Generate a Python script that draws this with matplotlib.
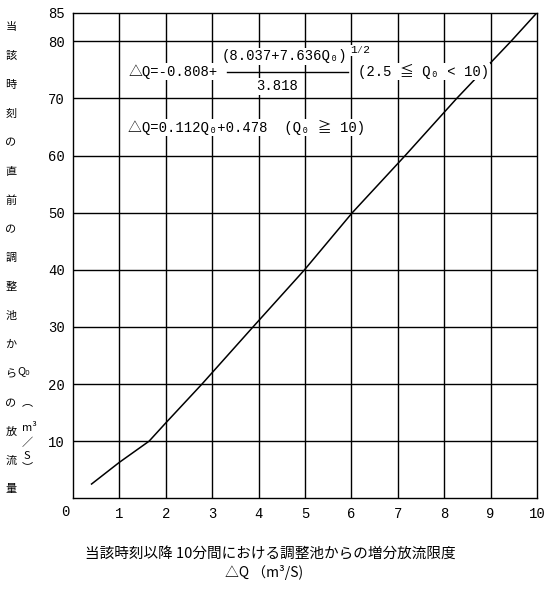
import matplotlib
matplotlib.use('Agg')
import matplotlib.pyplot as plt

plt.rcParams['font.family'] = ['Noto Sans CJK JP', 'DejaVu Sans']
mono = ['Liberation Mono', 'Noto Sans CJK JP', 'DejaVu Sans Mono']

# curve (x = ΔQ, y = Q0)
dq = [0.40, 1.00, 1.64, 2.00, 2.78, 3.88, 4.99, 6.02, 7.16, 8.27, 9.44, 10.0]
q0 = [2.5, 6.3, 10.0, 13.2, 20.0, 30.0, 40.0, 50.0, 60.0, 70.0, 80.0, 85.0]

xticks = [1, 2, 3, 4, 5, 6, 7, 8, 9, 10]
yticks = [10, 20, 30, 40, 50, 60, 70, 80, 85]

ylabel_chars = list('当該時刻の直前の調整池からの放流量')
unit_chars = ['Q₀', '︵', 'm³', '／', 'S', '︶']
unit_xpos = [24, 27, 29, 27, 27, 27]
unit_ypos = [371, 402, 428, 443, 456, 467]

W, H = 548, 607
fig = plt.figure(figsize=(W / 100, H / 100), dpi=100)
ax = fig.add_axes([73 / W, 1 - 498.3 / H, (537 - 73) / W, (498.3 - 12.7) / H])

ax.set_xlim(0, 10)
ax.set_ylim(0, 85)
for x in xticks[:-1]:
    ax.axvline(x, color='black', lw=1.0, zorder=1)
for y in yticks[:-1]:
    ax.axhline(y, color='black', lw=1.0, zorder=1)
for s in ax.spines.values():
    s.set_color('black')
    s.set_linewidth(1.0)

ax.plot(dq, q0, color='black', lw=1.1, zorder=3)

ax.set_xticks(xticks)
ax.set_yticks(yticks)
ax.tick_params(length=0, labelsize=10, pad=6)
for lab in ax.get_xticklabels() + ax.get_yticklabels():
    lab.set_family(mono)
fig.text(65 / W, 1 - 512 / H, '0', fontsize=10, family=mono, ha='center', va='center')

# equations
box = dict(facecolor='white', edgecolor='none', pad=1)
eq = dict(fontsize=10, family=mono, va='center', bbox=box, zorder=4)
ax.text(1.19, 74.7, '△Q=-0.808+', ha='left', **eq)
ax.text(3.21, 77.4, '(8.037+7.636Q₀)', ha='left', **eq)
ax.text(5.97, 78.4, '1⁄2', fontsize=8, family=mono, ha='left', va='center',
        bbox=dict(facecolor='white', edgecolor='none', pad=0.5), zorder=4)
ax.plot([3.32, 5.93], [74.7, 74.7], color='black', lw=1.0, zorder=5)
ax.text(4.40, 72.1, '3.818', ha='center', **eq)
ax.text(6.14, 74.7, '(2.5 ≦ Q₀ < 10)', ha='left', **eq)
ax.text(1.19, 64.9, '△Q=0.112Q₀+0.478  (Q₀ ≧ 10)', ha='left', **eq)

# vertical y label
for i, ch in enumerate(ylabel_chars):
    fig.text(11 / W, 1 - (27 + i * 28.9) / H, ch, fontsize=8, ha='center', va='center')
for ch, xp, yp in zip(unit_chars, unit_xpos, unit_ypos):
    fig.text(xp / W, 1 - yp / H, ch, fontsize=8, ha='center', va='center')

# x label
fig.text(270 / W, 1 - 555 / H, '当該時刻以降 10分間における調整池からの増分放流限度',
         fontsize=10.5, ha='center', va='center')
fig.text(264 / W, 1 - 572 / H, '△Q （m³/S)', fontsize=10, ha='center', va='center')

fig.savefig('out.png', dpi=100, facecolor='white')
